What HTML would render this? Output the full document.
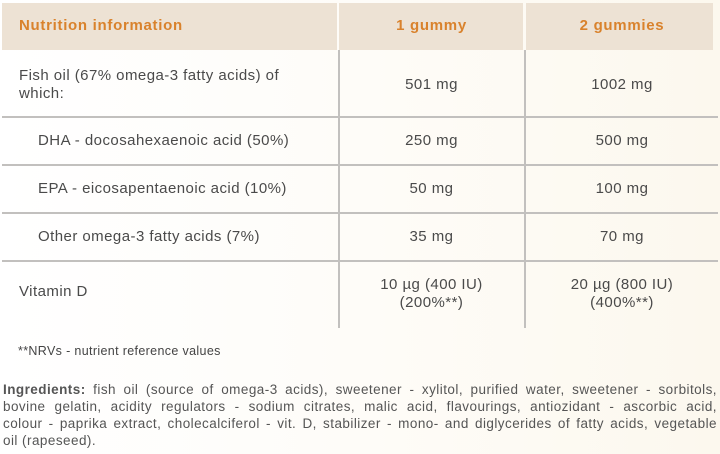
<!DOCTYPE html>
<html>
<head>
<meta charset="utf-8">
<style>
  html,body{margin:0;padding:0;}
  body{width:720px;height:454px;position:relative;overflow:hidden;
       background:linear-gradient(90deg,#ffffff 0%,#fefcf8 50%,#fcf8ee 100%);
       font-family:"Liberation Sans",sans-serif;color:#4a4a4a;}
  .a{position:absolute;white-space:nowrap;}
  .hd{position:absolute;top:3px;height:47px;background:#ede2d4;}
  .ht{position:absolute;font-weight:bold;font-size:15px;line-height:18px;color:#d9822c;letter-spacing:0.7px;}
  .t{position:absolute;font-size:15px;line-height:18px;letter-spacing:0.45px;white-space:nowrap;}
  .c2{left:339px;width:185px;text-align:center;}
  .c3{left:526px;width:192px;text-align:center;}
  .hl{position:absolute;left:2px;width:716px;height:2px;background:#c2c0be;}
  .vl{position:absolute;top:50px;height:278px;width:2px;background:#c2c0be;}
  .ing{position:absolute;left:3px;width:714px;font-size:13.5px;line-height:17px;color:#555;letter-spacing:0.45px;}
  .ing div{text-align:justify;text-align-last:justify;white-space:nowrap;}
  .ing div.last{text-align-last:left;}
</style>
</head>
<body>
  <!-- header -->
  <div class="hd" style="left:2px;width:335px;"></div>
  <div class="hd" style="left:339px;width:184px;"></div>
  <div class="hd" style="left:526px;width:187px;"></div>
  <div class="ht" style="left:19px;top:17px;">Nutrition information</div>
  <div class="ht c2" style="top:17px;">1 gummy</div>
  <div class="ht c3" style="top:17px;">2 gummies</div>

  <!-- grid lines -->
  <div class="vl" style="left:338px;"></div>
  <div class="vl" style="left:524px;"></div>
  <div class="hl" style="top:116px;"></div>
  <div class="hl" style="top:164px;"></div>
  <div class="hl" style="top:212px;"></div>
  <div class="hl" style="top:260px;"></div>

  <!-- row 1 -->
  <div class="t" style="left:19px;top:67px;">Fish oil (67% omega-3 fatty acids) of</div>
  <div class="t" style="left:19px;top:85px;">which:</div>
  <div class="t c2" style="top:76px;">501 mg</div>
  <div class="t c3" style="top:76px;">1002 mg</div>

  <!-- DHA -->
  <div class="t" style="left:38px;top:132px;">DHA - docosahexaenoic acid (50%)</div>
  <div class="t c2" style="top:132px;">250 mg</div>
  <div class="t c3" style="top:132px;">500 mg</div>

  <!-- EPA -->
  <div class="t" style="left:38px;top:180px;">EPA - eicosapentaenoic acid (10%)</div>
  <div class="t c2" style="top:180px;">50 mg</div>
  <div class="t c3" style="top:180px;">100 mg</div>

  <!-- Other -->
  <div class="t" style="left:38px;top:228px;">Other omega-3 fatty acids (7%)</div>
  <div class="t c2" style="top:228px;">35 mg</div>
  <div class="t c3" style="top:228px;">70 mg</div>

  <!-- Vitamin D -->
  <div class="t" style="left:19px;top:283px;">Vitamin D</div>
  <div class="t c2" style="top:276px;">10 µg (400 IU)</div>
  <div class="t c2" style="top:294px;">(200%**)</div>
  <div class="t c3" style="top:276px;">20 µg (800 IU)</div>
  <div class="t c3" style="top:294px;">(400%**)</div>

  <!-- footnote -->
  <div class="a" style="left:18px;top:344px;font-size:12.5px;line-height:14px;color:#444;letter-spacing:0.35px;">**NRVs - nutrient reference values</div>

  <!-- ingredients -->
  <div class="ing" style="top:381px;">
    <div><b>Ingredients:</b> fish oil (source of omega-3 acids), sweetener - xylitol, purified water, sweetener - sorbitols,</div>
    <div>bovine gelatin, acidity regulators - sodium citrates, malic acid, flavourings, antiozidant - ascorbic acid,</div>
    <div>colour - paprika extract, cholecalciferol - vit. D, stabilizer - mono- and diglycerides of fatty acids, vegetable</div>
    <div class="last">oil (rapeseed).</div>
  </div>
</body>
</html>
